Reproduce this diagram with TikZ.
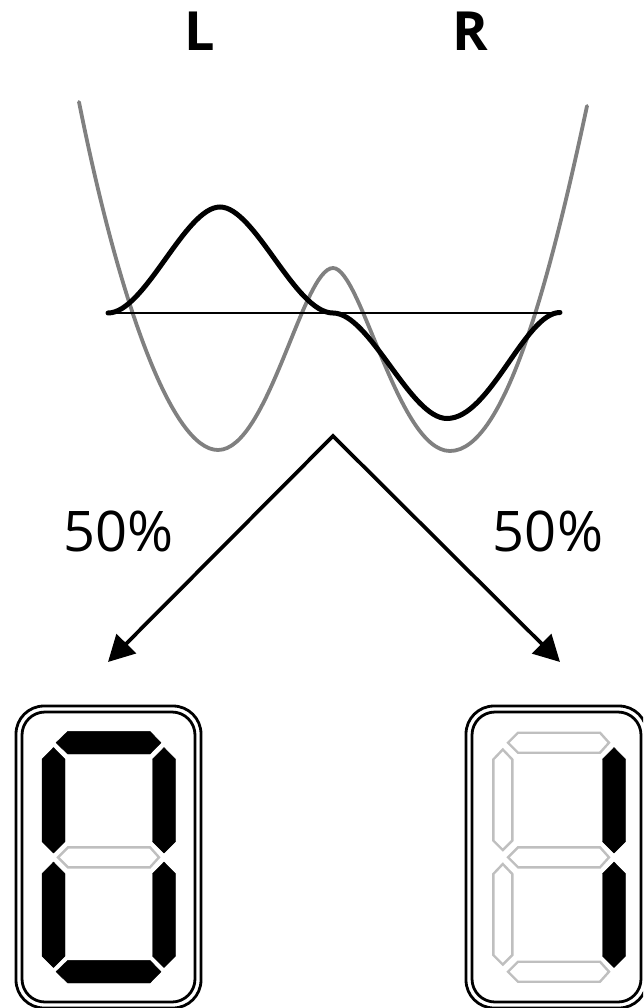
\documentclass[tikz,border=0pt]{standalone}
\usepackage{fontspec}
\setmainfont{Open Sans}
\usetikzlibrary{arrows.meta}
\tikzset{
  x=1pt,y=-1pt,
  frame/.style={draw=black,line width=2.8pt,fill=none},
  onseg/.style={draw=black,fill=black,line width=0.4pt,line join=round},
  offseg/.style={draw=black!25,fill=none,line width=2.4pt,line join=miter},
  well/.style={draw=black!50,line width=3.8pt,line cap=round},
  wave/.style={draw=black,line width=5pt,line cap=round},
  axisline/.style={draw=black,line width=2.3pt},
  split/.style={draw=black,line width=3.7pt,{Triangle[length=26pt,width=27pt]}-{Triangle[length=26pt,width=27pt]},line join=miter},
  pct/.style={font=\fontsize{56}{56}\selectfont,inner sep=0pt},
  side/.style={font=\fontsize{54}{54}\selectfont\bfseries,inner sep=0pt}
}
\newcommand{\hseg}[2]{\path[#2] (56,#1) -- (67.7,#1-11.3) -- (150,#1-11.3) -- (161,#1) -- (150,#1+11.3) -- (67.7,#1+11.3) -- cycle;}
\newcommand{\vseg}[2]{\path[onseg] (#1,#2) -- (#1+11.5,#2+11.7) -- (#1+11.5,#2+94) -- (#1,#2+105.5) -- (#1-11.5,#2+94) -- (#1-11.5,#2+11.7) -- cycle;}
\newcommand{\hsegoff}[1]{\path[offseg] (58,#1) -- (68,#1-10) -- (150,#1-10) -- (159,#1) -- (150,#1+10) -- (68,#1+10) -- cycle;}
\newcommand{\vsegoff}[2]{\path[offseg] (#1,#2) -- (#1+9.5,#2+10) -- (#1+9.5,#2+91) -- (#1,#2+100.5) -- (#1-9.5,#2+91) -- (#1-9.5,#2+10) -- cycle;}
\newcommand{\panel}[2]{%
  \draw[frame,rounded corners=28pt] (16,706) rectangle (#1,1008);
  \draw[frame,rounded corners=23pt] (22,712) rectangle (#2,1002);
}
\begin{document}
\begin{tikzpicture}
\useasboundingbox (0,0) rectangle (643,1008);
\clip (0,0) rectangle (643,1008);
\node[side] (labL) at (199.5,31) {L};
\node[side] (labR) at (470.5,31) {R};
\coordinate (g0) at (79,102);
\coordinate (g1) at (218,450);
\coordinate (g2) at (333,268);
\coordinate (g3) at (450,451);
\coordinate (g4) at (587,106);
\draw[well] (g0) .. controls (119,302) and (172,450) .. (g1)
  .. controls (268,450) and (303,268) .. (g2)
  .. controls (361,268) and (398,451) .. (g3)
  .. controls (505,451) and (550,279) .. (g4);
\coordinate (a0) at (107,313);
\coordinate (a1) at (561,313);
\draw[axisline] (a0) -- (a1);
\coordinate (w0) at (108,313);
\coordinate (w1) at (220,207);
\coordinate (w2) at (333,313);
\coordinate (w3) at (447,418.5);
\coordinate (w4) at (560,312.5);
\draw[wave] (w0) .. controls (145,313) and (185,207) .. (w1)
  .. controls (255,207) and (295,313) .. (w2)
  .. controls (370,313) and (410,418.5) .. (w3)
  .. controls (490,418.5) and (525,312.5) .. (w4);
\coordinate (apex) at (333,436);
\coordinate (tipL) at (108,662);
\coordinate (tipR) at (560,662);
\draw[split] (tipL) -- (apex) -- (tipR);
\node[pct] (pL) at (119,531) {50\%};
\node[pct] (pR) at (548,531) {50\%};
\begin{scope}
  \panel{201}{195}
  \hseg{742.7}{onseg}
  \hsegoff{857.3}
  \hseg{971.7}{onseg}
  \vseg{53.5}{747.5}
  \vseg{53.5}{862}
  \vseg{164}{747.5}
  \vseg{164}{862}
\end{scope}
\begin{scope}[xshift=450pt]
  \panel{197}{191}
  \hsegoff{742.7}
  \hsegoff{857.3}
  \hsegoff{971.7}
  \vsegoff{52.8}{749.5}
  \vsegoff{52.8}{864}
  \vseg{164}{747.5}
  \vseg{164}{862}
\end{scope}
\end{tikzpicture}
\end{document}
